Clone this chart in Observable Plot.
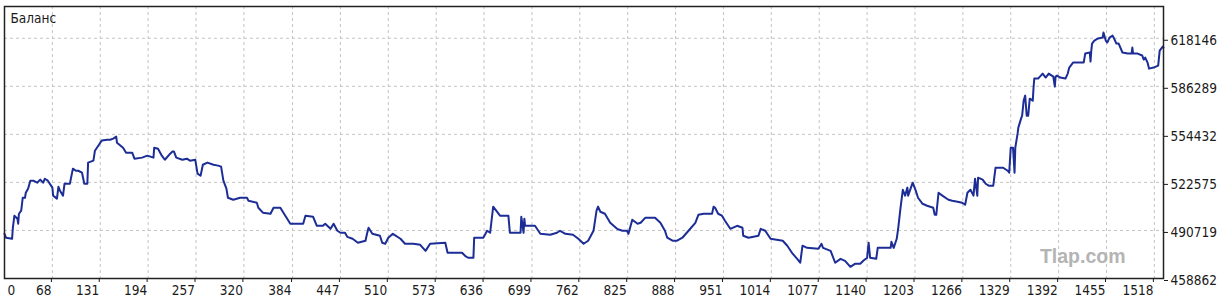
<!DOCTYPE html>
<html><head><meta charset="utf-8">
<script src="https://cdn.jsdelivr.net/npm/d3@7"></script>
<script src="https://cdn.jsdelivr.net/npm/@observablehq/plot@0.6"></script>
<style>html,body{margin:0;padding:0;background:#fff;} svg{display:block}</style>
</head><body><div id="chart"></div>
<script>
const title = "Баланс";
const watermark = "Tlap.com";
const trades = [
5,7,15,16,18,22,23,24,27,29,
32,33,36,39,43,48,52,56,58,62,
68,69,74,76,78,82,84,91,95,99,
102,107,110,114,115,122,124,131,133,140,
144,148,152,153,161,165,173,176,186,193,
201,202,207,212,216,223,226,228,231,239,
245,249,256,259,263,266,272,280,286,290,
293,297,299,306,315,324,326,337,339,345,
355,359,368,372,377,381,398,401,411,416,
424,427,434,438,443,447,453,456,463,470,
480,482,484,489,499,502,506,510,516,526,
532,543,552,559,565,585,588,607,611,615,
622,623,635,640,644,648,652,657,668,670,
684,685,688,689,690,703,710,723,732,736,
743,753,760,767,773,780,784,786,789,795,
802,811,818,824,826,831,838,842,848,861,
868,874,877,884,890,897,905,914,918,925,
936,938,940,944,949,953,960,969,976,977,
984,997,1000,1006,1013,1029,1035,1042,1048,1052,
1055,1061,1076,1080,1082,1092,1098,1105,1111,1118,
1124,1131,1135,1140,1142,1144,1152,1154,1171,1172,
1175,1179,1181,1184,1187,1190,1193,1194,1200,1204,
1207,1213,1219,1227,1229,1231,1234,1239,1247,1252,
1259,1265,1269,1272,1276,1280,1282,1285,1286,1292,
1296,1300,1306,1309,1319,1325,1327,1329,1332,1334,
1335,1338,1339,1343,1344,1346,1348,1350,1352,1354,
1358,1359,1360,1365,1371,1375,1379,1385,1387,1388,
1390,1394,1401,1404,1406,1411,1425,1427,1433,1434,
1435,1436,1439,1444,1450,1451,1454,1456,1459,1463,
1465,1468,1471,1476,1483,1488,1489,1490,1496,1502,
1504,1506,1509,1511,1517,1523,1525,1529,1530
];
const balances = [
488500,485900,485200,492500,500500,498500,495200,501800,503800,512400,
512400,515700,518400,523700,523700,522400,524400,522400,525000,523700,
519100,513800,511800,519700,517100,513800,521700,521700,531700,530300,
530300,529000,521700,521700,535700,537000,543600,548900,550300,550900,
550900,551600,552900,548900,545600,542300,542300,538300,539000,540300,
539000,545600,544900,540300,537600,541600,543000,543000,539000,537600,
538300,537000,537600,528400,527000,534300,535700,534300,533700,533000,
523700,518400,512400,511100,512400,512400,510400,509100,505800,502500,
501800,505800,505800,502500,498500,495200,495200,500500,499800,493800,
493800,495200,491800,495200,490500,489200,489200,486500,485200,482600,
483900,488500,492500,488500,487200,482600,481900,485900,488500,485200,
481900,481900,481200,477200,481900,482600,475900,475900,473900,472600,
472600,485900,485900,490500,489200,506500,503800,500500,500500,489200,
489200,499800,489200,498500,493800,493800,488500,487900,489200,490500,
488500,487900,485200,481900,483900,490500,503800,506500,503100,501800,
495800,491800,490500,490500,488500,497800,495200,495800,499100,499100,
495800,490500,485900,483900,483900,485900,490500,495800,501100,501800,
501800,506500,505800,501800,500500,497200,491800,493800,492500,487200,
485900,487200,491800,490500,485200,483900,480600,475300,471900,469300,
480600,479200,478600,481900,479200,477200,469300,471900,470600,466600,
468600,468600,470600,472600,482600,472600,471900,479200,479200,483200,
479200,485200,492500,505800,517700,513800,519100,513800,522400,517100,
512400,508400,507100,505800,501100,501100,515700,513800,511100,510400,
509800,509100,507800,515700,517700,513800,525000,513800,525700,524400,
521700,520400,520400,532300,532300,530300,529000,545600,545600,529000,
545600,554900,558900,565500,566800,576800,580100,566800,566800,578100,
576800,585400,591400,591400,594700,592100,594700,592700,586100,592700,
593400,592100,591400,594700,598700,602000,602000,608000,608700,602700,
610000,614600,616600,618000,618600,621900,616600,615300,618600,619900,
618000,614600,614600,608700,608000,608000,612000,608000,608000,606700,
604000,605300,602000,598000,598700,600000,610000,612600,612000
];
const xTickLabels = [0,68,131,194,257,320,384,447,510,573,636,699,762,825,888,951,1014,1077,1140,1203,1266,1329,1392,1455,1518];
const yTickLabels = [458862,490719,522575,554432,586289,618146];
const xDomain = [5, 1530];
const yDomain = [458862, 639200];

const data = trades.map((t, i) => ({trade: t, balance: balances[i]}));
const xTickPos = xTickLabels.map(d => Math.max(d, xDomain[0]));
const font = "'DejaVu Sans Condensed', 'DejaVu Sans', sans-serif";
const textColor = "#1a1a1a";
const gridStyle = {stroke: "#c4c4c4", strokeOpacity: 1, strokeDasharray: "3,3"};

const chart = Plot.plot({
  width: 1224, height: 306,
  marginLeft: 4, marginRight: 61, marginTop: 6, marginBottom: 28,
  x: {domain: xDomain, label: null},
  y: {domain: yDomain, label: null},
  style: {fontFamily: font, fontSize: "13.5px", color: textColor, background: "#fff"},
  marks: [
    Plot.gridX({ticks: xTickPos.slice(1), ...gridStyle}),
    Plot.gridY({ticks: yTickLabels.slice(1), ...gridStyle}),
    Plot.text([watermark], {frameAnchor: "bottom-right", textAnchor: "end", lineAnchor: "bottom",
      dx: -38, dy: -16, fill: "#b4b4b4", fontSize: 19.5, fontWeight: "bold",
      fontFamily: "'Liberation Sans', Arial, sans-serif"}),
    Plot.line(data, {x: "trade", y: "balance", stroke: "#1c2d96", strokeWidth: 2}),
    Plot.frame({stroke: "#222", strokeWidth: 1.5}),
    Plot.axisX({ticks: xTickPos.slice(1), label: null, tickSize: 4, tickPadding: 3, textAnchor: "end", dx: -1,
      tickFormat: d => String(d), fontSize: 13.5}),
    Plot.axisX({ticks: [xTickPos[0]], label: null, tickSize: 0, tickPadding: 7, textAnchor: "start", dx: 3,
      tickFormat: () => String(xTickLabels[0]), fontSize: 13.5}),
    Plot.axisY({anchor: "right", ticks: yTickLabels, label: null, tickSize: 4, tickPadding: 3, dy: 2,
      tickFormat: d => String(d), fontSize: 13.5}),
    Plot.text([title], {frameAnchor: "top-left", textAnchor: "start", lineAnchor: "top",
      dx: 6, dy: 7, fill: textColor, fontSize: 13.5})
  ]
});
document.getElementById("chart").appendChild(chart);
</script>
</body></html>
